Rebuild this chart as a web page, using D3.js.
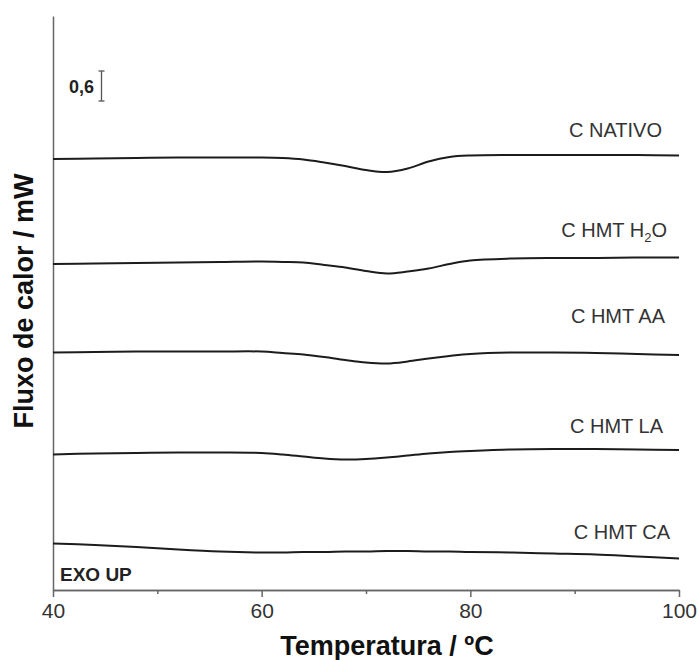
<!DOCTYPE html>
<html>
<head>
<meta charset="utf-8">
<script src="https://cdn.jsdelivr.net/npm/d3@7"></script>
<style>
    body { margin: 0; background: #fff; }
    svg { font-family: "Liberation Sans", Arial, sans-serif; }
    .axis path, .axis line { stroke: #666; stroke-width: 1.5; }
    .axis text { fill: #333; font-size: 21px; font-family: "Liberation Sans", Arial, sans-serif; }
    .line { fill: none; stroke: #1c1c1c; stroke-width: 2; }
    .curve-label { fill: #333; font-size: 20px; }
    .label-text { fill: #111; font-size: 27px; font-weight: bold; }
</style>
</head>
<body>
<script>
// temperature grid (ºC) on which each DSC curve was read
var temps = [40, 44, 48, 52, 56, 60, 62, 64, 66, 68, 70, 72, 74, 76, 78, 80, 84, 88, 92, 96, 100];

// heat flow (mW, curves already offset as stacked in the figure)
var nativo = [8.62, 8.63, 8.64, 8.65, 8.65, 8.65, 8.64, 8.61, 8.55, 8.48, 8.40, 8.36, 8.43, 8.57, 8.66, 8.69, 8.70, 8.70, 8.70, 8.70, 8.69];
var hmtH2O = [6.52, 6.53, 6.54, 6.55, 6.56, 6.57, 6.56, 6.55, 6.50, 6.45, 6.38, 6.33, 6.37, 6.43, 6.52, 6.59, 6.63, 6.64, 6.64, 6.65, 6.65];
var hmtAA  = [4.75, 4.76, 4.77, 4.77, 4.77, 4.77, 4.74, 4.71, 4.66, 4.60, 4.55, 4.53, 4.57, 4.63, 4.68, 4.72, 4.75, 4.75, 4.74, 4.72, 4.70];
var hmtLA  = [2.71, 2.73, 2.74, 2.75, 2.75, 2.74, 2.71, 2.67, 2.63, 2.61, 2.62, 2.65, 2.69, 2.73, 2.76, 2.78, 2.81, 2.82, 2.82, 2.81, 2.80];
var hmtCA  = [0.93, 0.90, 0.86, 0.81, 0.77, 0.75, 0.75, 0.76, 0.76, 0.77, 0.77, 0.78, 0.78, 0.77, 0.77, 0.76, 0.75, 0.73, 0.71, 0.67, 0.63];

var majorTicks = [40, 60, 80, 100];
var minorTicks = [50, 70, 90];
var scaleBar = 0.6;   // mW, the "0,6" bar

var margin = {top: 16, right: 20, bottom: 70, left: 53};
var width = 699 - margin.left - margin.right;
var height = 660 - margin.top - margin.bottom;

var series = [
    {name: "C NATIVO", values: nativo, lx: 662, ly: 137},
    {name: "C HMT H2O", values: hmtH2O, lx: 667, ly: 237, sub: true},
    {name: "C HMT AA", values: hmtAA, lx: 665, ly: 323},
    {name: "C HMT LA", values: hmtLA, lx: 663, ly: 433},
    {name: "C HMT CA", values: hmtCA, lx: 670, ly: 539}
];

var svg = d3.select("body").append("svg")
    .attr("width", 699)
    .attr("height", 660);

var g = svg.append("g")
    .attr("transform", "translate(" + margin.left + "," + margin.top + ")");

var xScale = d3.scaleLinear()
    .domain([40, 100])
    .range([0, width]);

var yScale = d3.scaleLinear()
    .domain([0, height / 50])
    .range([height, 0]);

g.append("g")
    .attr("class", "axis")
    .attr("transform", "translate(0," + height + ")")
    .call(d3.axisBottom(xScale).tickValues(majorTicks).tickSize(7).tickSizeOuter(0).tickPadding(6));

g.append("g")
    .attr("class", "axis")
    .attr("transform", "translate(0," + height + ")")
    .call(d3.axisBottom(xScale).tickValues(minorTicks).tickSize(4).tickSizeOuter(0).tickFormat(""));

g.append("g")
    .attr("class", "axis")
    .call(d3.axisLeft(yScale).tickValues([]).tickSizeOuter(0));

var line = d3.line()
    .x(function(d, i) { return xScale(temps[i]); })
    .y(function(d) { return yScale(d); })
    .curve(d3.curveCatmullRom.alpha(0.5));

g.selectAll(".line")
    .data(series)
    .enter()
    .append("path")
    .attr("class", "line")
    .attr("d", function(d) { return line(d.values); });

// curve labels
series.forEach(function(s) {
    var t = svg.append("text")
        .attr("class", "curve-label")
        .attr("x", s.lx)
        .attr("y", s.ly)
        .attr("text-anchor", "end");
    if (s.sub) {
        t.append("tspan").text("C HMT H");
        t.append("tspan").attr("font-size", "13px").attr("dy", 5).text("2");
        t.append("tspan").attr("dy", -5).text("O");
    } else {
        t.text(s.name);
    }
});

// 0,6 mW scale bar
var barX = 48.5;
var barBottom = yScale(9.78);
var barTop = yScale(9.78 + scaleBar);
var bar = g.append("g").attr("stroke", "#555").attr("stroke-width", 1.3);
bar.append("line").attr("x1", barX).attr("x2", barX).attr("y1", barTop).attr("y2", barBottom);
bar.append("line").attr("x1", barX - 3).attr("x2", barX + 3).attr("y1", barTop).attr("y2", barTop);
bar.append("line").attr("x1", barX - 3).attr("x2", barX + 3).attr("y1", barBottom).attr("y2", barBottom);

g.append("text")
    .attr("x", 16)
    .attr("y", 77)
    .attr("font-size", "18px")
    .attr("font-weight", "bold")
    .attr("fill", "#222")
    .text("0,6");

g.append("text")
    .attr("x", 7)
    .attr("y", height - 9)
    .attr("font-size", "19px")
    .attr("font-weight", "bold")
    .attr("fill", "#222")
    .text("EXO UP");

svg.append("text")
    .attr("class", "label-text")
    .attr("x", 387)
    .attr("y", 655)
    .attr("text-anchor", "middle")
    .text("Temperatura / ºC");

svg.append("text")
    .attr("class", "label-text")
    .attr("transform", "rotate(-90)")
    .attr("x", -301)
    .attr("y", 33)
    .attr("text-anchor", "middle")
    .text("Fluxo de calor / mW");
</script>
</body>
</html>
